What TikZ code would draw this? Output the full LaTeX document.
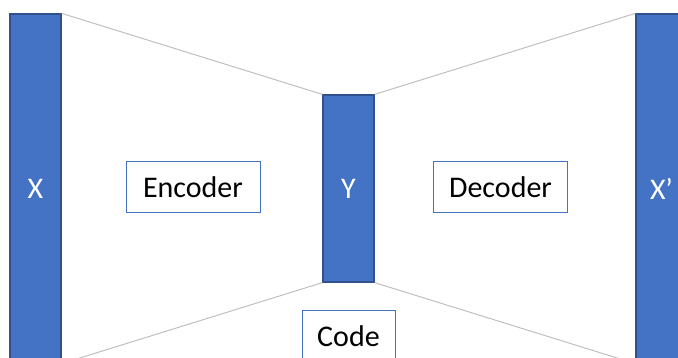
\documentclass[tikz,border=0pt]{standalone}
\usepackage{fontspec}
\setmainfont{Carlito}
\usepackage{xcolor}
\definecolor{barblue}{HTML}{4472C4}
\definecolor{bardark}{HTML}{2F528F}
\definecolor{linegray}{HTML}{BFBFBF}

\begin{document}
\begin{tikzpicture}[x=1pt, y=-1pt,
        every node/.style={font=\fontsize{30}{36}\selectfont},
        bar/.style={draw=bardark, line width=1.3pt, fill=barblue, text=white,
            minimum width=51pt, inner sep=0pt},
        labelbox/.style={draw=barblue, line width=1pt, fill=white,
            minimum height=51pt, inner sep=0pt},
        edgeline/.style={draw=linegray, line width=1pt}]
    \useasboundingbox (0,0) rectangle (678,358);
    \clip (0,0) rectangle (678,358);

    % Input, code and output layers
    \node[bar, minimum height=349pt] (X) at (35.5, 188.5) {X};
    \node[bar, minimum height=187pt] (Y) at (348.5, 188.5) {Y};
    \node[bar, minimum height=349pt] (Xout) at (661.5, 188.5) {X’};

    % Funnel outline
    \draw[edgeline] (X.north east) -- (Y.north west);
    \draw[edgeline] (X.south east) -- (Y.south west);
    \draw[edgeline] (Y.north east) -- (Xout.north west);
    \draw[edgeline] (Y.south east) -- (Xout.south west);

    % Labels
    \node[labelbox, minimum width=134pt] (enc) at (193, 187.5) {Encoder};
    \node[labelbox, minimum width=134pt] (dec) at (500.5, 187.5) {Decoder};
    \node[labelbox, minimum width=93pt] (code) at (348.5, 336.5) {Code};
\end{tikzpicture}
\end{document}
